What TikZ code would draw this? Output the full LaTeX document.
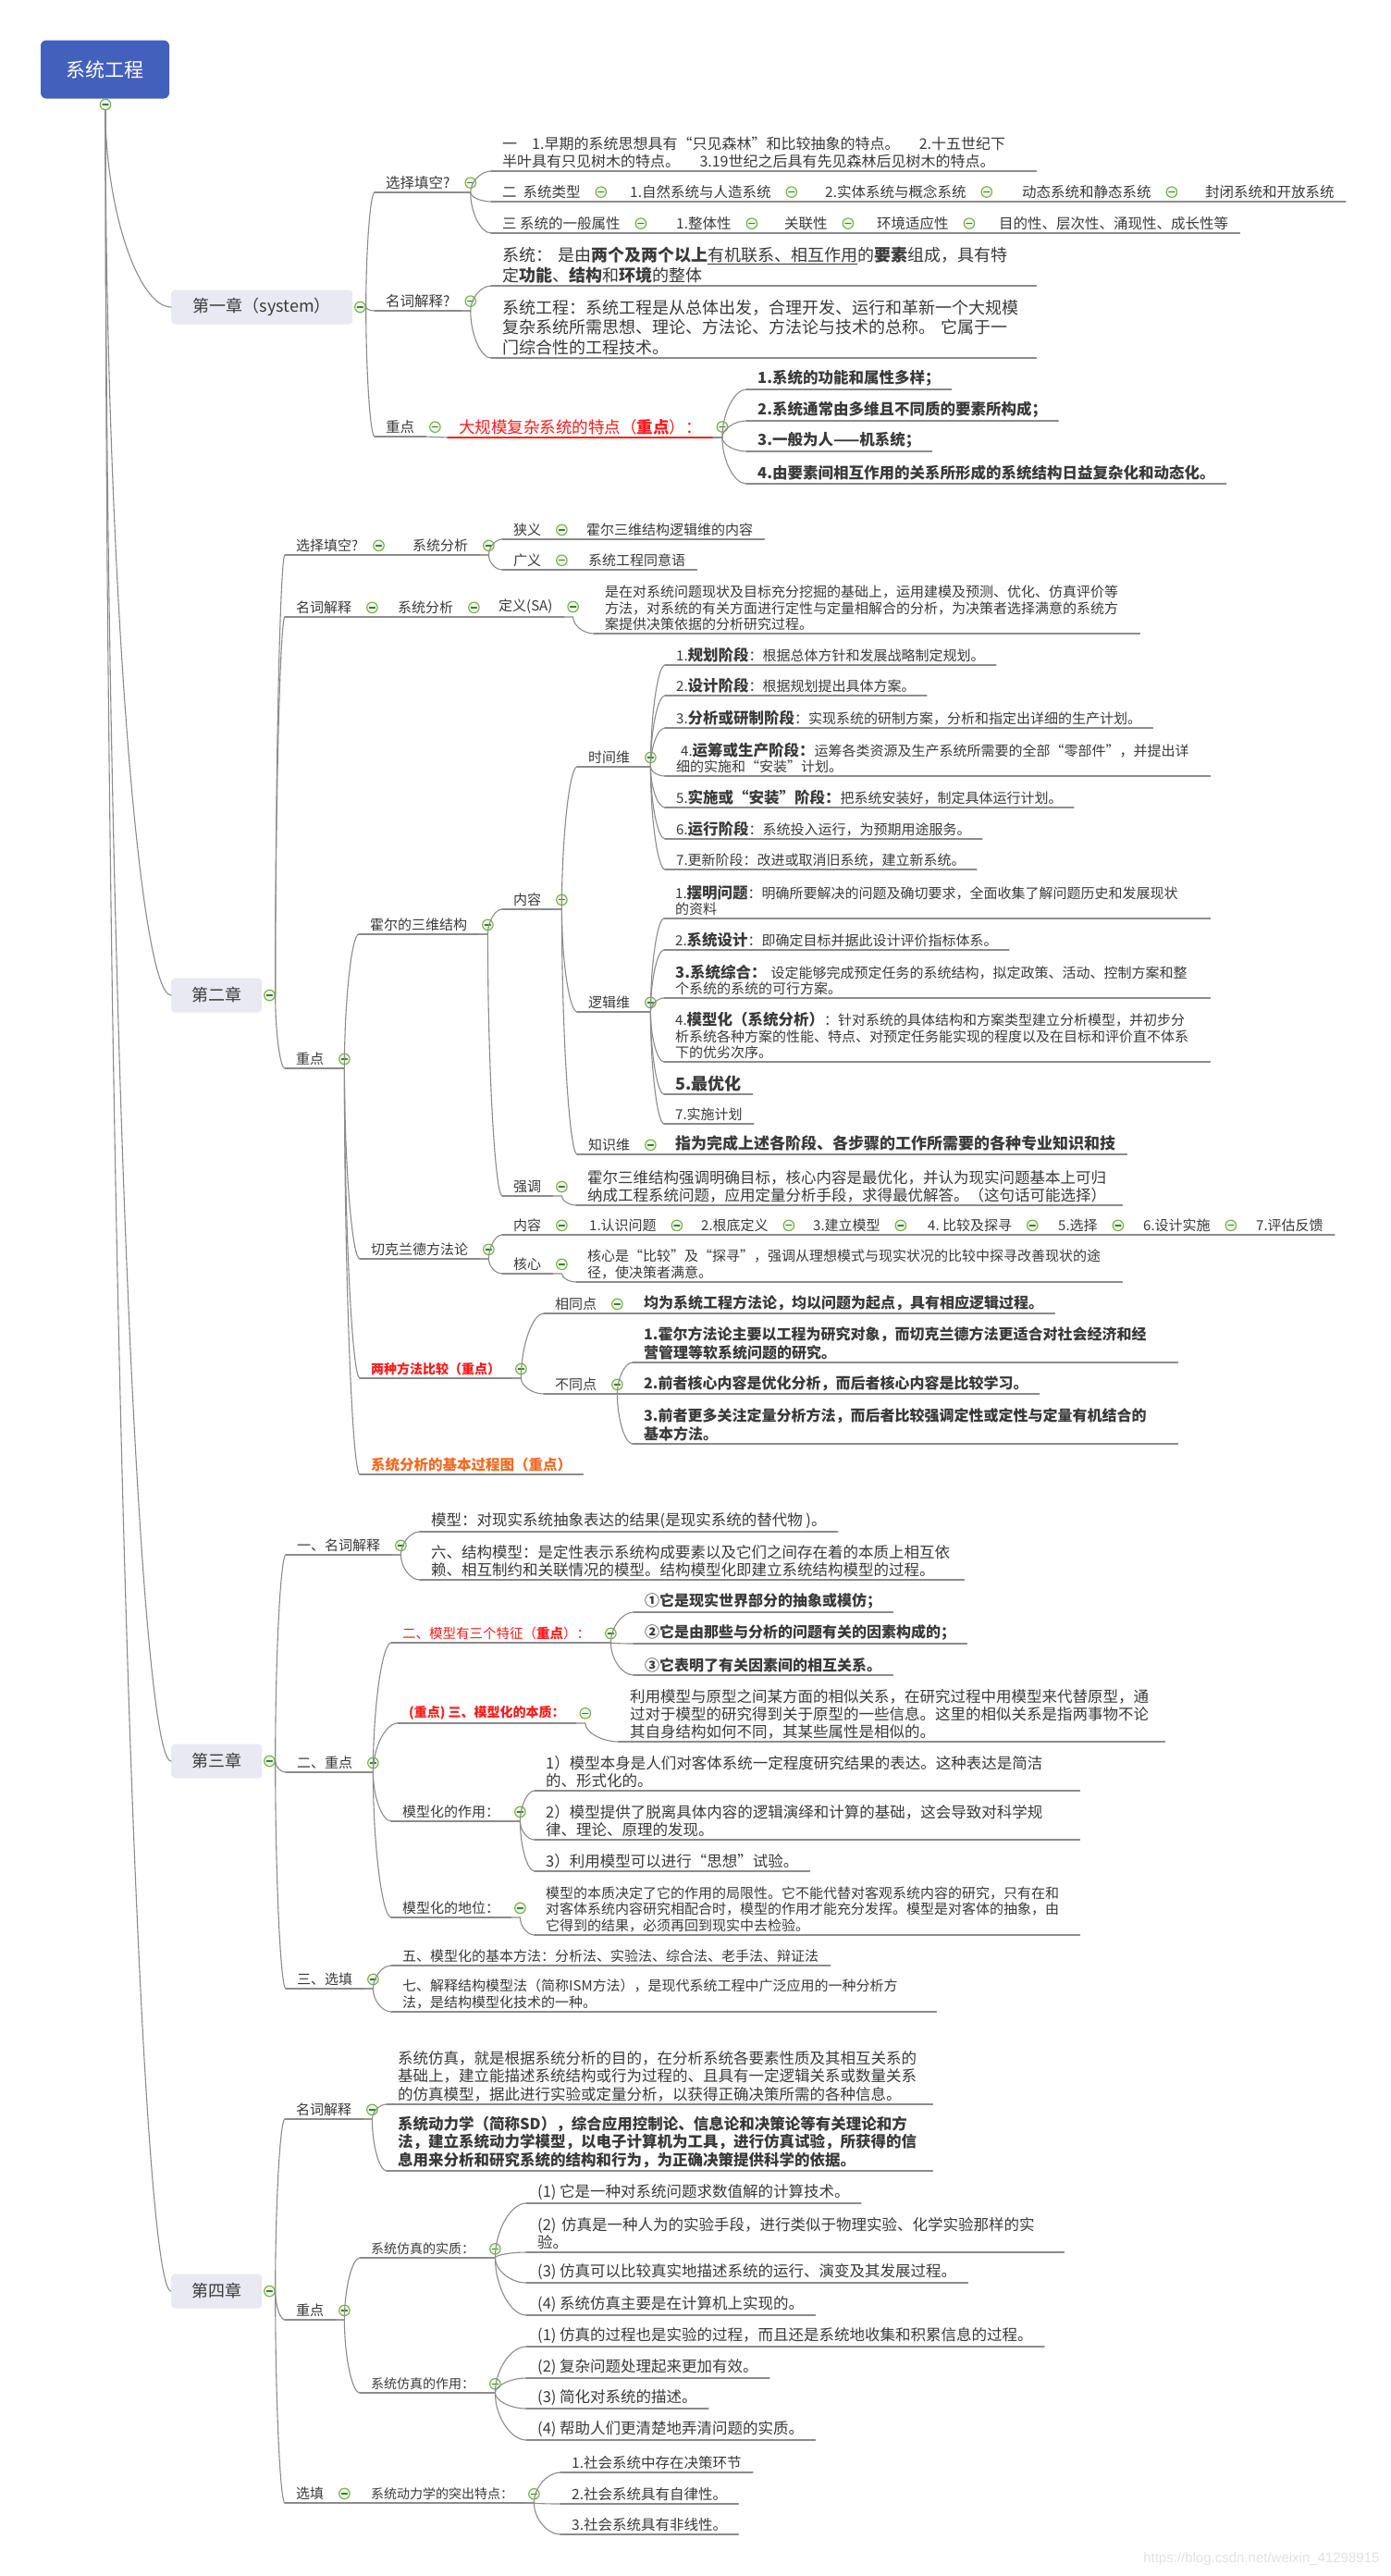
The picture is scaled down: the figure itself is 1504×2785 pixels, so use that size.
\documentclass[tikz,border=0pt]{standalone}
\usepackage{fontspec}
\setmainfont{Noto Sans CJK SC}
\newfontfamily\wmfont{Liberation Sans}
\usetikzlibrary{calc}

\definecolor{ink}{HTML}{3A3A3A}
\definecolor{linegray}{HTML}{8C8C8C}
\definecolor{rootblue}{HTML}{4360BC}
\definecolor{chapfill}{HTML}{E8E9F2}
\definecolor{btnedge}{HTML}{72B043}
\definecolor{btnfill}{HTML}{EEF2EA}
\definecolor{btnminus}{HTML}{3F7F26}
\definecolor{hotred}{HTML}{FF1A1A}
\definecolor{hotorange}{HTML}{F26A22}
\definecolor{wmgray}{HTML}{E2E2E2}

\newcommand\txtS{\fontsize{15}{17.5}\selectfont}
\newcommand\txtM{\fontsize{16.5}{19}\selectfont}
\newcommand\txtL{\fontsize{18}{21.5}\selectfont}
\newcommand\txtB{\fontsize{16}{20}\selectfont\bfseries}
\newcommand\bpart[1]{{\fontsize{16.5}{17.5}\selectfont\bfseries #1}}

\begin{document}
\begin{tikzpicture}[
  x=1pt, y=-1pt,
  line cap=round,
  root/.style={fill=rootblue, rounded corners=6pt, minimum width=139pt, minimum height=63pt, text=white, font=\fontsize{21}{24}\selectfont},
  chap/.style={anchor=west, fill=chapfill, rounded corners=4pt, minimum width=98pt, minimum height=37pt, inner xsep=14pt, text=ink, font=\txtL},
  tp/.style={anchor=south west, inner xsep=12pt, inner ysep=3pt, align=left, text=ink, font=\txtS,
    append after command={(\tikzlastnode.south west) edge[uline] (\tikzlastnode.south east)}},
  tw/.style={text width=#1},
  btn/.style={circle, draw=btnedge, fill=btnfill, line width=1.1pt, minimum size=11.5pt, inner sep=0pt,
    path picture={\draw[btnminus, line width=1.3pt] ([xshift=-3pt]path picture bounding box.center) -- ([xshift=3pt]path picture bounding box.center);}},
  uline/.style={draw=linegray, line width=1.5pt},
  conn/.style={draw=linegray, line width=1.1pt},
  branch/.style={to path={let \p1=(\tikztostart), \p2=(\tikztotarget) in
    .. controls (\x1,{0.5*\y1+0.5*\y2}) and ({0.5*\x1+0.5*\x2},\y2) .. (\tikztotarget)}},
  hot/.style={text=hotred},
  redline/.style={append after command={(\tikzlastnode.south west) edge[uline, draw=hotred] (\tikzlastnode.south east)}}
]
\fill[white] (0,0) rectangle (1504,2785);
\useasboundingbox (0,0) rectangle (1504,2785);

% root and chapters
\node[root] (root) at (113.5,75) {系统工程};
\node[btn] (root-b) at (114,113) {};
\node[chap, minimum width=196pt] (c1) at (185,332) {第一章（system）};
\node[btn] (c1-b) at ([xshift=8pt]c1.east) {};
\node[chap] (c2) at (185,1076) {第二章};
\node[btn] (c2-b) at ([xshift=8pt]c2.east) {};
\node[chap] (c3) at (185,1904) {第三章};
\node[btn] (c3-b) at ([xshift=8pt]c3.east) {};
\node[chap] (c4) at (185,2477) {第四章};
\node[btn] (c4-b) at ([xshift=8pt]c4.east) {};

% chapter 1
\node[tp, font=\fontsize{15.5}{18}\selectfont] (c1fill) at (405,208) {选择填空?};
\node[btn] (c1fill-b) at ([xshift=10pt]c1fill.east) {};
\node[tp, tw=565pt, font=\fontsize{16}{18.5}\selectfont] (c1fill1) at (531,185) {一~~~1.早期的系统思想具有“只见森林”和比较抽象的特点。~~~~2.十五世纪下\\半叶具有只见树木的特点。~~~~3.19世纪之后具有先见森林后见树木的特点。};
\node[tp, font=\fontsize{15.5}{18}\selectfont] (c1t0) at (531,218) {二~~系统类型};
\node[btn] (c1t0-b) at ([xshift=10pt]c1t0.east) {};
\node[tp, font=\fontsize{15.5}{18}\selectfont] (c1t1) at (669,218) {1.自然系统与人造系统};
\node[btn] (c1t1-b) at ([xshift=10pt]c1t1.east) {};
\node[tp, font=\fontsize{15.5}{18}\selectfont] (c1t2) at (880,218) {2.实体系统与概念系统};
\node[btn] (c1t2-b) at ([xshift=10pt]c1t2.east) {};
\node[tp, font=\fontsize{15.5}{18}\selectfont] (c1t3) at (1093,218) {动态系统和静态系统};
\node[btn] (c1t3-b) at ([xshift=10pt]c1t3.east) {};
\node[tp, font=\fontsize{15.5}{18}\selectfont] (c1t4) at (1291,218) {封闭系统和开放系统};
\node[tp, font=\fontsize{15.5}{18}\selectfont] (c1a0) at (531,252) {三~系统的一般属性};
\node[btn] (c1a0-b) at ([xshift=10pt]c1a0.east) {};
\node[tp, font=\fontsize{15.5}{18}\selectfont] (c1a1) at (719,252) {1.整体性};
\node[btn] (c1a1-b) at ([xshift=10pt]c1a1.east) {};
\node[tp, font=\fontsize{15.5}{18}\selectfont] (c1a2) at (836,252) {关联性};
\node[btn] (c1a2-b) at ([xshift=10pt]c1a2.east) {};
\node[tp, font=\fontsize{15.5}{18}\selectfont] (c1a3) at (936,252) {环境适应性};
\node[btn] (c1a3-b) at ([xshift=10pt]c1a3.east) {};
\node[tp, font=\fontsize{15.5}{18}\selectfont] (c1a4) at (1068,252) {目的性、层次性、涌现性、成长性等};
\node[tp, font=\fontsize{15.5}{18}\selectfont] (c1term) at (405,336) {名词解释?};
\node[btn] (c1term-b) at ([xshift=10pt]c1term.east) {};
\node[tp, tw=565pt, font=\txtL] (c1term1) at (531,309) {系统：~是由\textbf{两个及两个以上}\underline{有机联系、相互作用}的\textbf{要素}组成，具有特\\定\textbf{功能}、\textbf{结构}和\textbf{环境}的整体};
\node[tp, tw=565pt, font=\txtL] (c1term2) at (531,387) {系统工程：系统工程是从总体出发，合理开发、运行和革新一个大规模\\复杂系统所需思想、理论、方法论、方法论与技术的总称。~它属于一\\门综合性的工程技术。};
\node[tp, font=\fontsize{15.5}{18}\selectfont] (c1key) at (405,472) {重点};
\node[btn] (c1key-b) at ([xshift=10pt]c1key.east) {};
\node[tp, hot, redline, font=\fontsize{17.5}{20}\selectfont] (c1key1) at (484,473) {大规模复杂系统的特点（\textbf{重点}）：};
\node[btn] (c1key1-b) at ([xshift=10pt]c1key1.east) {};
\node[tp, font=\fontsize{16.5}{20}\selectfont\bfseries] (c1p1) at (807,421) {1.系统的功能和属性多样；};
\node[tp, font=\fontsize{16.5}{20}\selectfont\bfseries] (c1p2) at (807,455) {2.系统通常由多维且不同质的要素所构成；};
\node[tp, font=\fontsize{16.5}{20}\selectfont\bfseries] (c1p3) at (807,488) {3.一般为人——机系统；};
\node[tp, font=\fontsize{16.5}{20}\selectfont\bfseries] (c1p4) at (807,523) {4.由要素间相互作用的关系所形成的系统结构日益复杂化和动态化。};

% chapter 2
\node[tp] (c2fill) at (308,600) {选择填空?};
\node[btn] (c2fill-b) at ([xshift=10pt]c2fill.east) {};
\node[tp] (c2sa) at (434,600) {系统分析};
\node[btn] (c2sa-b) at ([xshift=10pt]c2sa.east) {};
\node[tp] (c2nar) at (543,583) {狭义};
\node[btn] (c2nar-b) at ([xshift=10pt]c2nar.east) {};
\node[tp] (c2nar1) at (622,583) {霍尔三维结构逻辑维的内容};
\node[tp] (c2wide) at (543,616) {广义};
\node[btn] (c2wide-b) at ([xshift=10pt]c2wide.east) {};
\node[tp] (c2wide1) at (624,616) {系统工程同意语};
\node[tp] (c2term) at (308,667) {名词解释};
\node[btn] (c2term-b) at ([xshift=10pt]c2term.east) {};
\node[tp] (c2term1) at (418,667) {系统分析};
\node[btn] (c2term1-b) at ([xshift=10pt]c2term1.east) {};
\node[tp] (c2term2) at (527,667) {定义(SA)};
\node[btn] (c2term2-b) at ([xshift=10pt]c2term2.east) {};
\node[tp, tw=566pt] (c2def) at (642,685) {是在对系统问题现状及目标充分挖掘的基础上，运用建模及预测、优化、仿真评价等\\方法，对系统的有关方面进行定性与定量相解合的分析，为决策者选择满意的系统方\\案提供决策依据的分析研究过程。};
\node[tp] (c2key) at (308,1155) {重点};
\node[btn] (c2key-b) at ([xshift=10pt]c2key.east) {};
\node[tp] (c2hall) at (388,1010) {霍尔的三维结构};
\node[btn] (c2hall-b) at ([xshift=10pt]c2hall.east) {};
\node[tp] (c2cont) at (543,983) {内容};
\node[btn] (c2cont-b) at ([xshift=10pt]c2cont.east) {};
\node[tp] (c2time) at (624,829) {时间维};
\node[btn] (c2time-b) at ([xshift=10pt]c2time.east) {};
\node[tp] (t1) at (719,719) {1.\bpart{规划阶段}：根据总体方针和发展战略制定规划。};
\node[tp] (t2) at (719,752) {2.\bpart{设计阶段}：根据规划提出具体方案。};
\node[tp] (t3) at (719,787) {3.\bpart{分析或研制阶段}：实现系统的研制方案，分析和指定出详细的生产计划。};
\node[tp, tw=565pt] (t4) at (719,839) {~4.\bpart{运筹或生产阶段：}运筹各类资源及生产系统所需要的全部“零部件”，并提出详\\细的实施和“安装”计划。};
\node[tp] (t5) at (719,873) {5.\bpart{实施或“安装”阶段：}把系统安装好，制定具体运行计划。};
\node[tp] (t6) at (719,907) {6.\bpart{运行阶段}：系统投入运行，为预期用途服务。};
\node[tp] (t7) at (719,940) {7.更新阶段：改进或取消旧系统，建立新系统。};
\node[tp] (c2logic) at (624,1094) {逻辑维};
\node[btn] (c2logic-b) at ([xshift=10pt]c2logic.east) {};
\node[tp, tw=566pt] (l1) at (718,993) {1.\bpart{摆明问题}：明确所要解决的问题及确切要求，全面收集了解问题历史和发展现状\\的资料};
\node[tp] (l2) at (718,1027) {2.\bpart{系统设计}：即确定目标并据此设计评价指标体系。};
\node[tp, tw=566pt] (l3) at (718,1079) {\bpart{3.系统综合：}~设定能够完成预定任务的系统结构，拟定政策、活动、控制方案和整\\个系统的系统的可行方案。};
\node[tp, tw=566pt] (l4) at (718,1148) {4.\bpart{模型化（系统分析）}：针对系统的具体结构和方案类型建立分析模型，并初步分\\析系统各种方案的性能、特点、对预定任务能实现的程度以及在目标和评价直不体系\\下的优劣次序。};
\node[tp, font=\fontsize{18}{20}\selectfont\bfseries] (l5) at (718,1183) {5.最优化};
\node[tp] (l6) at (718,1215) {7.实施计划};
\node[tp] (c2know) at (624,1248) {知识维};
\node[btn] (c2know-b) at ([xshift=10pt]c2know.east) {};
\node[tp, font=\fontsize{17}{20}\selectfont\bfseries] (c2know1) at (718,1248) {指为完成上述各阶段、各步骤的工作所需要的各种专业知识和技};
\node[tp] (c2emph) at (543,1293) {强调};
\node[btn] (c2emph-b) at ([xshift=10pt]c2emph.east) {};
\node[tp, tw=566pt, font=\txtM] (c2emph1) at (623,1303) {霍尔三维结构强调明确目标，核心内容是最优化，并认为现实问题基本上可归\\纳成工程系统问题，应用定量分析手段，求得最优解答。（这句话可能选择）};
\node[tp] (c2check) at (389,1361) {切克兰德方法论};
\node[btn] (c2check-b) at ([xshift=10pt]c2check.east) {};
\node[tp] (c2ccont) at (543,1335) {内容};
\node[btn] (c2ccont-b) at ([xshift=10pt]c2ccont.east) {};
\node[tp] (k1) at (625,1335) {1.认识问题};
\node[btn] (k1-b) at ([xshift=10pt]k1.east) {};
\node[tp] (k2) at (746,1335) {2.根底定义};
\node[btn] (k2-b) at ([xshift=10pt]k2.east) {};
\node[tp] (k3) at (867,1335) {3.建立模型};
\node[btn] (k3-b) at ([xshift=10pt]k3.east) {};
\node[tp] (k4) at (991,1335) {4.~比较及探寻};
\node[btn] (k4-b) at ([xshift=10pt]k4.east) {};
\node[tp] (k5) at (1132,1335) {5.选择};
\node[btn] (k5-b) at ([xshift=10pt]k5.east) {};
\node[tp] (k6) at (1224,1335) {6.设计实施};
\node[btn] (k6-b) at ([xshift=10pt]k6.east) {};
\node[tp] (k7) at (1346,1335) {7.评估反馈};
\node[tp] (c2core) at (543,1377) {核心};
\node[btn] (c2core-b) at ([xshift=10pt]c2core.east) {};
\node[tp, tw=566pt] (c2core1) at (623,1386) {核心是“比较”及“探寻”，强调从理想模式与现实状况的比较中探寻改善现状的途\\径，使决策者满意。};
\node[tp, hot, font=\fontsize{14}{17}\selectfont\bfseries] (c2cmp) at (389,1490) {两种方法比较（重点）};
\node[btn] (c2cmp-b) at ([xshift=10pt]c2cmp.east) {};
\node[tp] (c2same) at (588,1420) {相同点};
\node[btn] (c2same-b) at ([xshift=10pt]c2same.east) {};
\node[tp, font=\txtB] (c2same1) at (684,1420) {均为系统工程方法论，均以问题为起点，具有相应逻辑过程。};
\node[tp] (c2diff) at (588,1507) {不同点};
\node[btn] (c2diff-b) at ([xshift=10pt]c2diff.east) {};
\node[tp, tw=565pt, font=\txtB] (d1) at (684,1473) {1.霍尔方法论主要以工程为研究对象，而切克兰德方法更适合对社会经济和经\\营管理等软系统问题的研究。};
\node[tp, font=\txtB] (d2) at (684,1507) {2.前者核心内容是优化分析，而后者核心内容是比较学习。};
\node[tp, tw=565pt, font=\txtB] (d3) at (684,1561) {3.前者更多关注定量分析方法，而后者比较强调定性或定性与定量有机结合的\\基本方法。};
\node[tp, text=hotorange, font=\fontsize{15.5}{18}\selectfont\bfseries] (c2proc) at (389,1594) {系统分析的基本过程图（重点）};

% chapter 3
\node[tp] (c3term) at (309,1681) {一、名词解释};
\node[btn] (c3term-b) at ([xshift=10pt]c3term.east) {};
\node[tp, font=\txtM] (m1) at (454,1656) {模型：对现实系统抽象表达的结果(是现实系统的替代物~)。};
\node[tp, tw=564pt, font=\txtM] (m2) at (454,1708) {六、结构模型：是定性表示系统构成要素以及它们之间存在着的本质上相互依\\赖、相互制约和关联情况的模型。结构模型化即建立系统结构模型的过程。};
\node[tp] (c3key) at (309,1916) {二、重点};
\node[btn] (c3key-b) at ([xshift=10pt]c3key.east) {};
\node[tp, hot, font=\fontsize{14.5}{17}\selectfont] (c3feat) at (423,1776) {二、模型有三个特征（\textbf{重点}）：};
\node[btn] (c3feat-b) at ([xshift=10pt]c3feat.east) {};
\node[tp, font=\txtB] (f1) at (685,1743) {①它是现实世界部分的抽象或模仿；};
\node[tp, font=\txtB] (f2) at (685,1777) {②它是由那些与分析的问题有关的因素构成的；};
\node[tp, font=\txtB] (f3) at (685,1811) {③它表明了有关因素间的相互关系。};
\node[tp, hot, font=\fontsize{14}{17}\selectfont\bfseries] (c3ess) at (430,1863) {(重点)~三、模型化的本质：};
\node[btn] (c3ess-b) at ([xshift=10pt]c3ess.east) {};
\node[tp, tw=566pt, font=\txtM] (c3ess1) at (669,1883) {利用模型与原型之间某方面的相似关系，在研究过程中用模型来代替原型，通\\过对于模型的研究得到关于原型的一些信息。这里的相似关系是指两事物不论\\其自身结构如何不同，其某些属性是相似的。};
\node[tp] (c3role) at (423,1969) {模型化的作用：};
\node[btn] (c3role-b) at ([xshift=10pt]c3role.east) {};
\node[tp, tw=565pt, font=\txtM] (r1) at (578,1936) {1）模型本身是人们对客体系统一定程度研究结果的表达。这种表达是简洁\\的、形式化的。};
\node[tp, tw=565pt, font=\txtM] (r2) at (578,1989) {2）模型提供了脱离具体内容的逻辑演绎和计算的基础，这会导致对科学规\\律、理论、原理的发现。};
\node[tp, font=\txtM] (r3) at (578,2023) {3）利用模型可以进行“思想”试验。};
\node[tp] (c3pos) at (423,2073) {模型化的地位：};
\node[btn] (c3pos-b) at ([xshift=10pt]c3pos.east) {};
\node[tp, tw=565pt] (c3pos1) at (578,2092) {模型的本质决定了它的作用的局限性。它不能代替对客观系统内容的研究，只有在和\\对客体系统内容研究相配合时，模型的作用才能充分发挥。模型是对客体的抽象，由\\它得到的结果，必须再回到现实中去检验。};
\node[tp] (c3opt) at (309,2150) {三、选填};
\node[btn] (c3opt-b) at ([xshift=10pt]c3opt.east) {};
\node[tp] (o1) at (423,2125) {五、模型化的基本方法：分析法、实验法、综合法、老手法、辩证法};
\node[tp, tw=565pt] (o2) at (423,2175) {七、解释结构模型法（简称ISM方法），是现代系统工程中广泛应用的一种分析方\\法，是结构模型化技术的一种。};

% chapter 4
\node[tp] (c4term) at (308,2291) {名词解释};
\node[btn] (c4term-b) at ([xshift=10pt]c4term.east) {};
\node[tp, tw=566pt, font=\fontsize{16.5}{19.5}\selectfont] (s1) at (418,2275) {系统仿真，就是根据系统分析的目的，在分析系统各要素性质及其相互关系的\\基础上，建立能描述系统结构或行为过程的、且具有一定逻辑关系或数量关系\\的仿真模型，据此进行实验或定量分析，以获得正确决策所需的各种信息。};
\node[tp, tw=566pt, font=\fontsize{16.5}{19.5}\selectfont\bfseries] (s2) at (418,2347) {系统动力学（简称SD），综合应用控制论、信息论和决策论等有关理论和方\\法，建立系统动力学模型，以电子计算机为工具，进行仿真试验，所获得的信\\息用来分析和研究系统的结构和行为，为正确决策提供科学的依据。};
\node[tp] (c4key) at (308,2508) {重点};
\node[btn] (c4key-b) at ([xshift=10pt]c4key.east) {};
\node[tp, font=\fontsize{14}{17}\selectfont] (c4ess) at (389,2441) {系统仿真的实质：};
\node[btn] (c4ess-b) at ([xshift=10pt]c4ess.east) {};
\node[tp, font=\txtM] (e1) at (569,2382) {(1)~它是一种对系统问题求数值解的计算技术。};
\node[tp, tw=557pt, font=\txtM] (e2) at (569,2435) {(2)~仿真是一种人为的实验手段，进行类似于物理实验、化学实验那样的实\\验。};
\node[tp, font=\txtM] (e3) at (569,2468) {(3)~仿真可以比较真实地描述系统的运行、演变及其发展过程。};
\node[tp, font=\txtM] (e4) at (569,2503) {(4)~系统仿真主要是在计算机上实现的。};
\node[tp, font=\fontsize{14}{17}\selectfont] (c4role) at (389,2587) {系统仿真的作用：};
\node[btn] (c4role-b) at ([xshift=10pt]c4role.east) {};
\node[tp, font=\txtM] (g1) at (569,2537) {(1)~仿真的过程也是实验的过程，而且还是系统地收集和积累信息的过程。};
\node[tp, font=\txtM] (g2) at (569,2571) {(2)~复杂问题处理起来更加有效。};
\node[tp, font=\txtM] (g3) at (569,2604) {(3)~简化对系统的描述。};
\node[tp, font=\txtM] (g4) at (569,2638) {(4)~帮助人们更清楚地弄清问题的实质。};
\node[tp] (c4opt) at (308,2706) {选填};
\node[btn] (c4opt-b) at ([xshift=10pt]c4opt.east) {};
\node[tp, font=\fontsize{14}{17}\selectfont] (c4sd) at (389,2706) {系统动力学的突出特点：};
\node[btn] (c4sd-b) at ([xshift=10pt]c4sd.east) {};
\node[tp, font=\fontsize{15.5}{18}\selectfont] (h1) at (606,2673) {1.社会系统中存在决策环节};
\node[tp, font=\fontsize{15.5}{18}\selectfont] (h2) at (606,2707) {2.社会系统具有自律性。};
\node[tp, font=\fontsize{15.5}{18}\selectfont] (h3) at (606,2740) {3.社会系统具有非线性。};

\node[anchor=east, text=wmgray, font=\wmfont\fontsize{15}{17}\selectfont] (wm) at (1495,2767) {https://blog.csdn.net/weixin\_41298915};

% connectors
\foreach \c in {c1,c2,c3,c4} \draw[conn] (root-b.south) to[branch] (\c.west);
\foreach \c in {c1fill,c1term,c1key} \draw[conn] (c1-b.east) to[branch] (\c.south west);
\foreach \c in {c1fill1,c1t0,c1a0} \draw[conn] (c1fill.south east) -- ++(10,0) to[branch] (\c.south west);
\foreach \p/\c in {c1t0/c1t1,c1t1/c1t2,c1t2/c1t3,c1t3/c1t4,c1a0/c1a1,c1a1/c1a2,c1a2/c1a3,c1a3/c1a4} \draw[conn] (\p.south east) -- (\c.south west);
\foreach \c in {c1term1,c1term2} \draw[conn] (c1term.south east) -- ++(10,0) to[branch] (\c.south west);
\draw[conn] (c1key.south east) -- (c1key1.south west);
\foreach \c in {c1p1,c1p2,c1p3,c1p4} \draw[conn] (c1key1.south east) -- ++(10,0) to[branch] (\c.south west);

\foreach \c in {c2fill,c2term,c2key} \draw[conn] (c2-b.east) to[branch] (\c.south west);
\draw[conn] (c2fill.south east) -- (c2sa.south west);
\foreach \c in {c2nar,c2wide} \draw[conn] (c2sa.south east) -- ++(10,0) to[branch] (\c.south west);
\foreach \p/\c in {c2nar/c2nar1,c2wide/c2wide1,c2term/c2term1,c2term1/c2term2} \draw[conn] (\p.south east) -- (\c.south west);
\draw[conn] (c2term2.south east) -- ++(10,0) to[branch] (c2def.south west);
\foreach \c in {c2hall,c2check,c2cmp,c2proc} \draw[conn] (c2key.south east) -- ++(10,0) to[branch] (\c.south west);
\foreach \c in {c2cont,c2emph} \draw[conn] (c2hall.south east) -- ++(10,0) to[branch] (\c.south west);
\foreach \c in {c2time,c2logic,c2know} \draw[conn] (c2cont.south east) -- ++(10,0) to[branch] (\c.south west);
\foreach \c in {t1,t2,t3,t4,t5,t6,t7} \draw[conn] (c2time.south east) -- ++(10,0) to[branch] (\c.south west);
\foreach \c in {l1,l2,l3,l4,l5,l6} \draw[conn] (c2logic.south east) -- ++(10,0) to[branch] (\c.south west);
\draw[conn] (c2know.south east) -- (c2know1.south west);
\draw[conn] (c2emph.south east) -- ++(10,0) to[branch] (c2emph1.south west);
\foreach \c in {c2ccont,c2core} \draw[conn] (c2check.south east) -- ++(10,0) to[branch] (\c.south west);
\foreach \p/\c in {c2ccont/k1,k1/k2,k2/k3,k3/k4,k4/k5,k5/k6,k6/k7} \draw[conn] (\p.south east) -- (\c.south west);
\draw[conn] (c2core.south east) -- ++(10,0) to[branch] (c2core1.south west);
\foreach \c in {c2same,c2diff} \draw[conn] (c2cmp.south east) -- ++(10,0) to[branch] (\c.south west);
\draw[conn] (c2same.south east) -- (c2same1.south west);
\foreach \c in {d1,d2,d3} \draw[conn] (c2diff.south east) -- ++(10,0) to[branch] (\c.south west);

\foreach \c in {c3term,c3key,c3opt} \draw[conn] (c3-b.east) to[branch] (\c.south west);
\foreach \c in {m1,m2} \draw[conn] (c3term.south east) -- ++(10,0) to[branch] (\c.south west);
\foreach \c in {c3feat,c3ess,c3role,c3pos} \draw[conn] (c3key.south east) -- ++(10,0) to[branch] (\c.south west);
\foreach \c in {f1,f2,f3} \draw[conn] (c3feat.south east) -- ++(10,0) to[branch] (\c.south west);
\draw[conn] (c3ess.south east) -- ++(10,0) to[branch] (c3ess1.south west);
\foreach \c in {r1,r2,r3} \draw[conn] (c3role.south east) -- ++(10,0) to[branch] (\c.south west);
\draw[conn] (c3pos.south east) -- ++(10,0) to[branch] (c3pos1.south west);
\foreach \c in {o1,o2} \draw[conn] (c3opt.south east) -- ++(10,0) to[branch] (\c.south west);

\foreach \c in {c4term,c4key,c4opt} \draw[conn] (c4-b.east) to[branch] (\c.south west);
\foreach \c in {s1,s2} \draw[conn] (c4term.south east) -- ++(10,0) to[branch] (\c.south west);
\foreach \c in {c4ess,c4role} \draw[conn] (c4key.south east) -- ++(10,0) to[branch] (\c.south west);
\foreach \c in {e1,e2,e3,e4} \draw[conn] (c4ess.south east) -- ++(10,0) to[branch] (\c.south west);
\foreach \c in {g1,g2,g3,g4} \draw[conn] (c4role.south east) -- ++(10,0) to[branch] (\c.south west);
\draw[conn] (c4opt.south east) -- (c4sd.south west);
\foreach \c in {h1,h2,h3} \draw[conn] (c4sd.south east) -- ++(10,0) to[branch] (\c.south west);
\end{tikzpicture}
\end{document}
